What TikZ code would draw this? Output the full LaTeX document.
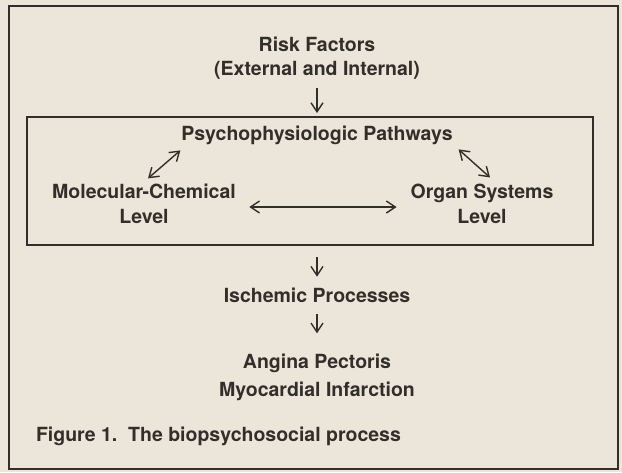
\documentclass[tikz,border=0pt]{standalone}
\usepackage{fontspec}
\setmainfont{TeX Gyre Heros}
\usetikzlibrary{arrows.meta,positioning}

\definecolor{paper}{RGB}{236,230,218}
\definecolor{ink}{RGB}{50,46,42}

\begin{document}
\begin{tikzpicture}[x=1pt,y=-1pt,every node/.style={stage},
  stage/.style={font=\fontsize{19.5}{24.5}\selectfont\bfseries,text=ink,align=center,inner sep=0pt,outer sep=0pt},
  frame/.style={draw=ink,line width=2.2pt},
  oneway/.style={draw=ink,line width=1.4pt,-{Straight Barb[length=9pt,width=12pt]}},
  twoway/.style={draw=ink,line width=1.4pt,{Straight Barb[length=9pt,width=12pt]}-{Straight Barb[length=9pt,width=12pt]}}]

        \fill[paper] (0,0) rectangle (622,472);
        \useasboundingbox (0,0) rectangle (622,472);
        \draw[frame,line width=2.6pt] (9,6) rectangle (618,469);

        \node (RF) at (317,58) {Risk Factors\\(External and Internal)};
        \node[frame,minimum width=566pt,minimum height=128pt] (box) at (310,181) {};
        \node (PP) at (317,135) {Psychophysiologic Pathways};
        \node (MC) at (144,204) {Molecular-Chemical\\Level};
        \node (OS) at (482,204) {Organ Systems\\Level};
        \node (IP) at (317,295) {Ischemic Processes};
        \node (AP) [below = 52pt of IP] {Angina Pectoris\\[3.5pt]Myocardial Infarction};
        \node (FIG) [anchor=west] at (36,436) {Figure 1.\ \ The biopsychosocial process};

        \draw[oneway] ([yshift=-9pt]RF.south -| IP.north) -- ([yshift=4pt]box.north -| IP.north);
        \draw[twoway] ([xshift=4pt,yshift=6pt]MC.north) -- ([xshift=-1pt,yshift=-6pt]PP.south west);
        \draw[twoway] ([xshift=6pt,yshift=-5pt]PP.south east) -- ([xshift=8pt,yshift=7pt]OS.north);
        \draw[twoway] ([xshift=13.5pt,yshift=-3pt]MC.east) -- ([xshift=-14pt,yshift=-3pt]OS.west);
        \draw[oneway] ([yshift=-12pt]box.south -| IP.north) -- ([yshift=11pt]IP.north);
        \draw[oneway] ([yshift=-12pt]IP.south) -- ([yshift=21pt]AP.north);
      \end{tikzpicture}
\end{document}
